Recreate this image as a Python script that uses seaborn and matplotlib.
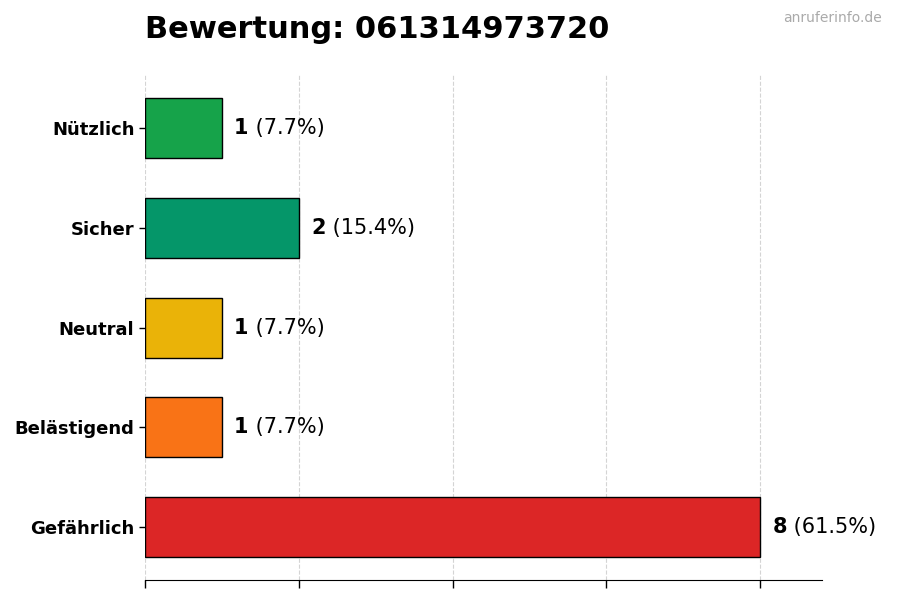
import matplotlib
matplotlib.use("Agg")
import matplotlib.pyplot as plt
import seaborn as sns
import pandas as pd

categories = ["Nützlich", "Sicher", "Neutral", "Belästigend", "Gefährlich"]
counts = [1, 2, 1, 1, 8]
colors = ["#16a34a", "#059669", "#eab308", "#f97316", "#dc2626"]
title = "Bewertung: 061314973720"
watermark = "anruferinfo.de"

total = sum(counts)
df = pd.DataFrame({"kategorie": categories, "anzahl": counts})

sns.set_style("white")
plt.rcParams['font.family'] = ['DejaVu Sans']
plt.rcParams['text.color'] = 'black'
plt.rcParams['xtick.color'] = 'black'
plt.rcParams['ytick.color'] = 'black'

fig = plt.figure(figsize=(9, 6), dpi=100)
ax = fig.add_axes([0.161, 0.033, 0.752, 0.842])

sns.barplot(data=df, y="kategorie", x="anzahl", hue="kategorie",
            palette=colors, orient="h", width=0.6, edgecolor="black",
            linewidth=1, legend=False, ax=ax, saturation=1)

ax.set_xlim(0, max(counts) * 1.1)
ax.set_ylim(len(categories) - 0.47, -0.53)
ax.set_xticks(range(0, max(counts) + 1, 2))
ax.set_xticklabels([])
ax.xaxis.grid(True, linestyle="--", color="#d4d4d4", linewidth=0.8)
ax.set_axisbelow(True)
ax.set_xlabel("")
ax.set_ylabel("")
for s in ["top", "right", "left"]:
    ax.spines[s].set_visible(False)
ax.spines["bottom"].set_color("black")
ax.tick_params(axis="x", bottom=True, length=6, width=1, color="black")
ax.tick_params(axis="y", left=True, length=4, width=1, color="black")
for lbl in ax.get_yticklabels():
    lbl.set_fontweight("bold")
    lbl.set_fontsize(13)
    lbl.set_color("black")

for i, v in enumerate(counts):
    pct = v / total * 100
    t1 = ax.text(v + 0.16, i, str(v), va="center", ha="left",
                 fontsize=15, fontweight="bold", color="black")
    ax.annotate(f" ({pct:.1f}%)", xy=(1, 0.5), xycoords=t1,
                va="center", ha="left", fontsize=15, color="black")

fig.text(0.161, 0.95, title, fontsize=22, fontweight="bold", ha="left",
         va="center", color="black")
fig.text(0.98, 0.97, watermark, fontsize=10, color="#aaaaaa", ha="right", va="center")

fig.savefig("out.png", dpi=100)
